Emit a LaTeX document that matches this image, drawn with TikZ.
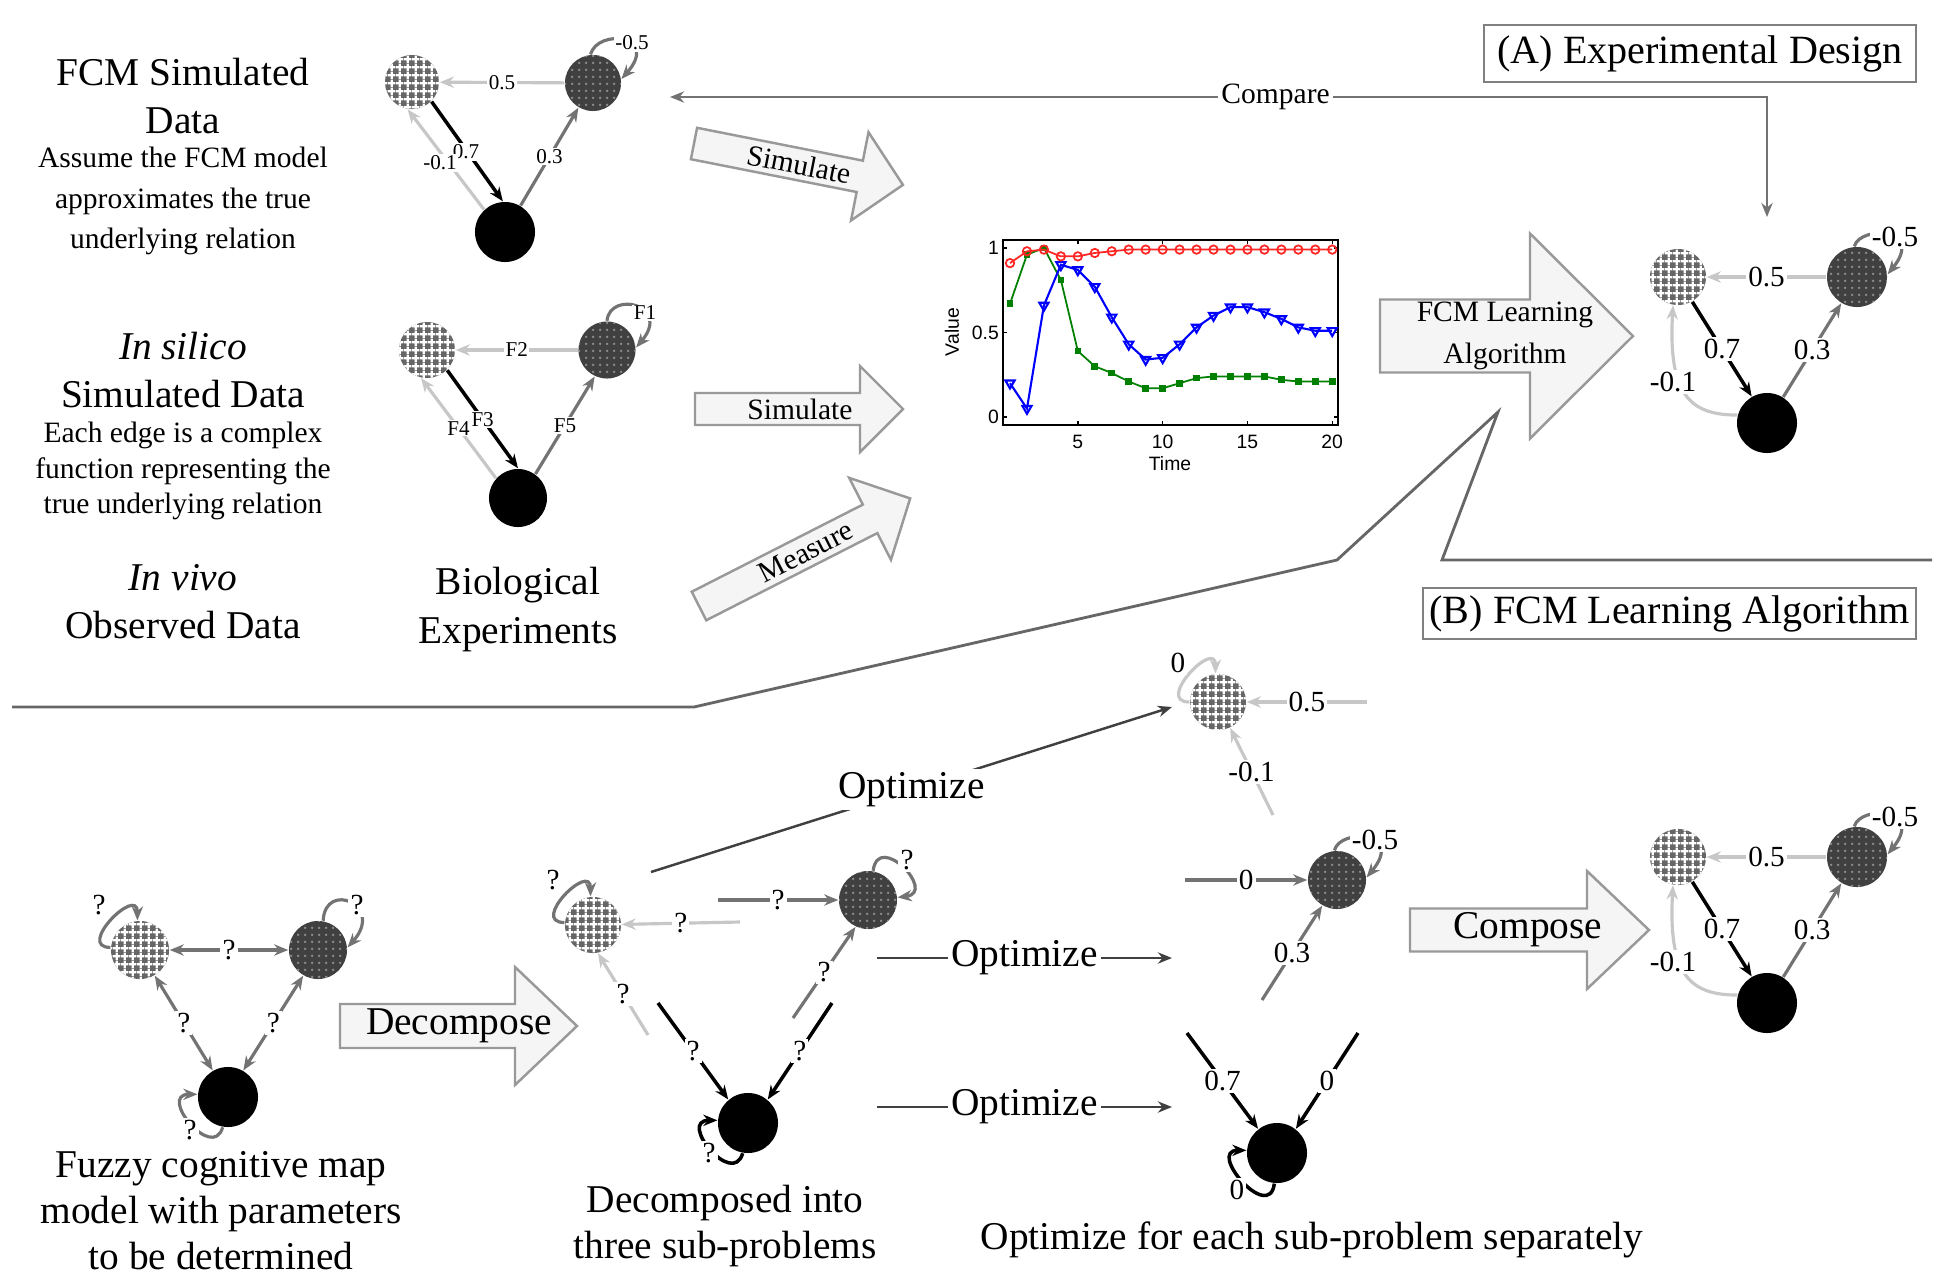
\documentclass[tikz,border=0pt]{standalone}
\usepackage{fontspec}
\setmainfont{Liberation Serif}
\newfontfamily\chartfont{Liberation Sans}
\usetikzlibrary{arrows.meta,patterns,plotmarks,calc}

\pgfdeclarepatternformonly{fcmgrid}{\pgfqpoint{0pt}{0pt}}{\pgfqpoint{2.3pt}{2.3pt}}{\pgfqpoint{2.3pt}{2.3pt}}{%
  \pgfsetlinewidth{0.7pt}%
  \pgfpathmoveto{\pgfqpoint{1.15pt}{0pt}}\pgfpathlineto{\pgfqpoint{1.15pt}{2.3pt}}%
  \pgfpathmoveto{\pgfqpoint{0pt}{1.15pt}}\pgfpathlineto{\pgfqpoint{2.3pt}{1.15pt}}%
  \pgfusepath{stroke}}
\pgfdeclarepatternformonly{fcmdots}{\pgfqpoint{0pt}{0pt}}{\pgfqpoint{2pt}{2pt}}{\pgfqpoint{2pt}{2pt}}{%
  \pgfpathcircle{\pgfqpoint{1pt}{1pt}}{0.42pt}\pgfusepath{fill}}

\newcommand{\simfont}{\fontsize{8.4}{10.3}\selectfont}
\newcommand{\bigfont}{\fontsize{11.2}{13.7}\selectfont}

\tikzset{
  chknode/.style={circle, inner sep=0pt, minimum size=0.56cm, fill=black!60, postaction={pattern=fcmgrid, pattern color=white}},
  drknode/.style={circle, inner sep=0pt, minimum size=0.58cm, fill=black!75, postaction={pattern=fcmdots, pattern color=white!55!black}},
  blknode/.style={circle, inner sep=0pt, minimum size=0.6cm, fill=black},
  elight/.style={draw=black!22, line width=0.9pt},
  emid/.style={draw=black!55, line width=0.9pt},
  edark/.style={draw=black, line width=1pt},
  arrowend/.style={-{Stealth[length=4pt,width=3.2pt]}},
  dblarrow/.style={{Stealth[length=4pt,width=3.2pt]}-{Stealth[length=4pt,width=3.2pt]}},
  elab/.style={fill=white, inner sep=0.6pt, font=\fontsize{8.3}{9}\selectfont},
  elabs/.style={fill=white, inner sep=0.4pt, font=\fontsize{6}{7}\selectfont},
  bigtxt/.style={align=center, font=\fontsize{11.2}{13.7}\selectfont, inner sep=0pt},
  smalltxt/.style={align=center, inner sep=0pt},
  fatarr/.style={draw=black!40, fill=black!4, line width=0.7pt},
  divider/.style={draw=black!60, line width=0.8pt},
  tagbox/.style={draw=black!50, line width=0.6pt, fill=white, inner sep=0pt, font=\fontsize{11.4}{13}\selectfont},
  optline/.style={draw=black!75, line width=0.7pt},
  opttxt/.style={fill=white, inner sep=1pt, font=\fontsize{11.2}{13}\selectfont},
  cmpline/.style={draw=black!55, line width=0.7pt},
  cmptxt/.style={fill=white, inner sep=1pt, font=\fontsize{8.4}{10}\selectfont},
  ticklab/.style={inner sep=1pt},
}

% #1 name, #2 start (x,y), #3 angle, #4 length, #5 shaft width, #6 head width, #7 head length, #8 text pos, #9 text
\newcommand{\fatarrow}[9]{%
  \begin{scope}[shift={#2}, rotate=#3]
    \draw[fatarr] (0,{-#5/2}) -- ({#4-#7},{-#5/2}) -- ({#4-#7},{-#6/2}) -- (#4,0) -- ({#4-#7},{#6/2}) -- ({#4-#7},{#5/2}) -- (0,{#5/2}) -- cycle;
    \node[rotate=#3, align=center, inner sep=0pt] (#1) at (#8,0) {#9};
  \end{scope}}

\newcommand{\finalfcm}[2]{%
  \begin{scope}[shift={(0,#2)}]
    \node[chknode] (#1a) at (1678,277) {};
    \node[drknode, minimum size=0.6cm] (#1b) at (1857,277) {};
    \node[blknode] (#1c) at (1767,423) {};
    \draw[elight, arrowend] (#1b) -- node[elab]{0.5} (#1a);
    \draw[edark, arrowend] (#1a.-60) -- node[elab]{0.7} (#1c.120);
    \draw[emid, arrowend] (#1c.58) -- node[elab]{0.3} (#1b.-121);
    \draw[elight, arrowend] (#1c.165) .. controls (1690,415) and (1668,395) .. (#1a.-100);
    \node[elab] (#1lm) at (1673,382) {-0.1};
    \draw[emid, arrowend] (#1b.95) .. controls (1860,225) and (1925,228) .. (#1b.5);
    \node[elab] (#1ll) at (1895,237) {-0.5};
  \end{scope}}

\begin{document}
\begin{tikzpicture}[x=0.01cm, y=-0.01cm]
\useasboundingbox (0,0) rectangle (1944,1275);
\fill[white] (0,0) rectangle (1944,1275);

% ---------- left texts ----------
\node[bigtxt] (t1) at (183,96) {FCM Simulated\\Data};
\node[smalltxt, font=\fontsize{8.4}{11.4}\selectfont] (t2) at (183,201) {Assume the FCM model\\approximates the true\\underlying relation};
\node[bigtxt, font=\fontsize{11.2}{13.4}\selectfont] (t3) at (183,370) {\textit{In silico}\\Simulated Data};
\node[smalltxt, font=\fontsize{8.4}{10}\selectfont] (t4) at (183,471) {Each edge is a complex\\function representing the\\true underlying relation};
\node[bigtxt] (t5) at (183,602) {\textit{In vivo}\\Observed Data};
\node[bigtxt, font=\fontsize{11.2}{13.9}\selectfont] (t6) at (518,609.5) {Biological\\Experiments};

% ---------- graph 1 (FCM simulated) ----------
\node[chknode, minimum size=0.54cm] (g1a) at (412,82) {};
\node[drknode, minimum size=0.56cm] (g1b) at (593,83) {};
\node[blknode] (g1c) at (505,232) {};
\draw[elight, arrowend] (g1b) -- node[elabs]{0.5} (g1a);
\draw[edark, arrowend] (g1a.-45) -- (g1c.94);
\draw[elight, arrowend] (g1c.133) -- (g1a.-99);
\node[elabs] (g1l7) at (466,152) {0.7};
\node[elabs] (g1l1) at (440,163) {-0.1};
\draw[emid, arrowend] (g1c) -- node[elabs]{0.3} (g1b);
\draw[emid, arrowend] (g1b.95) .. controls (598,28) and (660,35) .. (g1b.8);
\node[elabs] (g1l5) at (632,43) {-0.5};

% ---------- graph 2 (in silico) ----------
\node[chknode] (g2a) at (427,350) {};
\node[drknode, minimum size=0.57cm] (g2b) at (607,350) {};
\node[blknode, minimum size=0.58cm] (g2c) at (518,498) {};
\draw[elight, arrowend] (g2b) -- node[elabs]{F2} (g2a);
\draw[edark, arrowend] (g2a.-45) -- node[elabs]{F3} (g2c.90);
\draw[elight, arrowend] (g2c.138) -- node[elabs]{F4} (g2a.-102);
\draw[emid, arrowend] (g2c.54) -- node[elabs]{F5} (g2b.-115);
\draw[emid, arrowend] (g2b.90) .. controls (610,290) and (672,305) .. (g2b.5);
\node[elabs] (g2l1) at (645,313) {F1};

% ---------- fat arrows ----------
\fatarrow{arSimA}{(694,143.5)}{-11.2}{213}{32}{90}{44}{107}{\simfont Simulate}
\fatarrow{arSimB}{(695,409)}{0}{208}{32}{86}{43}{105}{\simfont Simulate}
\fatarrow{arMeas}{(699,606)}{27}{237}{32}{92}{45}{120}{\simfont Measure}
\fatarrow{arLearn}{(1380,336)}{0}{253}{73}{205}{103}{125}{\simfont FCM Learning\\\simfont Algorithm}
\fatarrow{arDec}{(340,1026)}{0}{237}{44}{118}{62}{119}{\bigfont Decompose}
\fatarrow{arComp}{(1410,930)}{0}{239}{43}{118}{62}{118}{\bigfont Compose}

% ---------- chart ----------
\node[font=\chartfont\fontsize{5.5}{6}\selectfont, rotate=90] (chy) at (952,332) {Value};
\node[font=\chartfont\fontsize{5.5}{6}\selectfont] (chx) at (1170,464) {Time};
\begin{scope}[shift={(993.05,417)}, x=0.1695cm, y=1.69cm, font=\chartfont\fontsize{5.5}{6}\selectfont]
  \draw[line width=0.5pt] (0.587,-0.047) rectangle (20.35,1.047);
  \foreach \t in {5,10,15,20} {
    \draw[line width=0.4pt] (\t,-0.047) -- ++(0,0.025);
    \draw[line width=0.4pt] (\t,1.047) -- ++(0,-0.025);
    \node[ticklab] at (\t,-0.148) {\t};
  }
  \foreach \v in {0,0.5,1} {
    \draw[line width=0.4pt] (0.587,\v) -- ++(0.25,0);
    \draw[line width=0.4pt] (20.35,\v) -- ++(-0.25,0);
    \node[ticklab, anchor=east] at (0.587,\v) {\v};
  }
  \draw[green!50!black, line width=0.5pt, mark=square*, mark size=0.7pt] plot coordinates {(1,0.67) (2,0.96) (3,1.0) (4,0.81) (5,0.39) (6,0.30) (7,0.26) (8,0.21) (9,0.17) (10,0.17) (11,0.20) (12,0.23) (13,0.24) (14,0.24) (15,0.24) (16,0.24) (17,0.22) (18,0.21) (19,0.21) (20,0.21)};
  \draw[blue, line width=0.6pt, mark=triangle, mark size=1.5pt, mark options={rotate=180}] plot coordinates {(1,0.20) (2,0.05) (3,0.66) (4,0.90) (5,0.87) (6,0.77) (7,0.59) (8,0.43) (9,0.34) (10,0.35) (11,0.43) (12,0.53) (13,0.60) (14,0.65) (15,0.65) (16,0.62) (17,0.58) (18,0.53) (19,0.51) (20,0.51)};
  \draw[red!85!white, line width=0.5pt, mark=o, mark size=1.2pt] plot coordinates {(1,0.91) (2,0.98) (3,0.99) (4,0.95) (5,0.95) (6,0.97) (7,0.98) (8,0.99) (9,0.99) (10,0.99) (11,0.99) (12,0.99) (13,0.99) (14,0.99) (15,0.99) (16,0.99) (17,0.99) (18,0.99) (19,0.99) (20,0.99)};
\end{scope}

% ---------- right graphs ----------
\finalfcm{rt}{0}
\finalfcm{rb}{580}

% ---------- compare ----------
\coordinate (cmpL) at (670,97);
\coordinate (cmpK) at (1767,97);
\coordinate (cmpR) at (1767,217);
\draw[cmpline, dblarrow] (cmpL) -- node[cmptxt, pos=0.552]{Compare} (cmpK) -- (cmpR);

% ---------- boxes ----------
\node[tagbox, minimum width=4.32cm, minimum height=0.57cm] (boxA) at (1700,53.5) {(A) Experimental Design};
\node[tagbox, minimum width=4.93cm, minimum height=0.51cm] (boxB) at (1669.5,613.5) {(B) FCM Learning Algorithm};

% ---------- divider ----------
\draw[divider] (12,707) -- (694,707) -- (1337,560) -- (1498,412) -- (1442,560) -- (1932,560);

% ---------- bottom-left graph ----------
\node[chknode, minimum size=0.58cm] (bla) at (140,950) {};
\node[drknode] (blb) at (318,950) {};
\node[blknode] (blc) at (228,1097) {};
\draw[emid, dblarrow] (bla) -- node[elab]{?} (blb);
\draw[emid, dblarrow] (bla.-60) -- node[elab]{?} (blc.120);
\draw[emid, dblarrow] (blb.-120) -- node[elab]{?} (blc.60);
\draw[emid, arrowend] (bla.175) .. controls +(-35,0) and +(0,-35) .. (bla.95);
\node[elab, fill=none] (blq1) at (99,905) {?};
\draw[emid, arrowend] (blb.80) .. controls (325,880) and (385,905) .. (blb.5);
\node[elab] (blq2) at (357,905) {?};
\draw[emid, arrowend] (blc.-100) .. controls +(-10,35) and +(-40,0) .. (blc.175);
\node[elab] (blq3) at (190,1130) {?};
\node[bigtxt, font=\fontsize{11.2}{13.1}\selectfont] (t7) at (221,1211) {Fuzzy cognitive map\\model with parameters\\to be determined};

% ---------- decomposed graph ----------
\node[chknode] (dma) at (593,925) {};
\node[drknode] (dmb) at (868,900) {};
\node[blknode] (dmc) at (748,1123) {};
\coordinate (dmp1) at (740,922);
\coordinate (dmp2) at (718,900);
\coordinate (dmp3) at (648,1035);
\coordinate (dmp4) at (793,1018);
\coordinate (dmp5) at (658,1003);
\coordinate (dmp6) at (832,1003);
\draw[elight, arrowend] (dmp1) -- node[elab]{?} (dma);
\draw[emid, arrowend] (dmp2) -- node[elab]{?} (dmb);
\draw[elight, arrowend] (dmp3) -- node[elab]{?} (dma.-80);
\draw[emid, arrowend] (dmp4) -- node[elab]{?} (dmb.-115);
\draw[edark, arrowend] (dmp5) -- node[elab]{?} (dmc.130);
\draw[edark, arrowend] (dmp6) -- node[elab]{?} (dmc.50);
\draw[emid, arrowend] (dma.175) .. controls +(-35,0) and +(0,-35) .. (dma.95);
\node[elab, fill=none] (dmq1) at (553,880) {?};
\draw[emid, arrowend] (dmb.80) .. controls +(5,-40) and +(40,-5) .. (dmb.5);
\node[elab] (dmq2) at (907,860) {?};
\draw[edark, arrowend] (dmc.-100) .. controls +(-10,35) and +(-40,0) .. (dmc.175);
\node[elab] (dmq3) at (709,1153) {?};
\node[bigtxt, font=\fontsize{11.2}{13.1}\selectfont] (t8) at (725,1226) {Decomposed into\\three sub-problems};

% ---------- optimize arrows ----------
\coordinate (op1s) at (651,872);
\coordinate (op1e) at (1172,707);
\coordinate (op2s) at (877,958);
\coordinate (op2e) at (1172,958);
\coordinate (op3s) at (877,1107);
\coordinate (op3e) at (1172,1107);
\draw[optline, arrowend] (op1s) -- node[opttxt]{Optimize} (op1e);
\draw[optline, arrowend] (op2s) -- node[opttxt]{Optimize} (op2e);
\draw[optline, arrowend] (op3s) -- node[opttxt]{Optimize} (op3e);

% ---------- sub-problem 1 ----------
\node[chknode] (s1a) at (1218,702) {};
\coordinate (s1p1) at (1367,702);
\coordinate (s1p2) at (1273,815);
\draw[elight, arrowend] (s1p1) -- node[elab]{0.5} (s1a);
\draw[elight, arrowend] (s1p2) -- node[elab]{-0.1} (s1a.-65);
\draw[elight, arrowend] (s1a.180) .. controls +(-35,0) and +(0,-35) .. (s1a.95);
\node[elab] (s1q) at (1178,663) {0};

% ---------- sub-problem 2 ----------
\node[drknode] (s2b) at (1337,880) {};
\coordinate (s2p1) at (1185,880);
\coordinate (s2p2) at (1262,1000);
\draw[emid, arrowend] (s2p1) -- node[elab]{0} (s2b);
\draw[emid, arrowend] (s2p2) -- node[elab]{0.3} (s2b.-120);
\draw[emid, arrowend] (s2b.95) .. controls (1340,828) and (1405,831) .. (s2b.5);
\node[elab] (s2q) at (1375,840) {-0.5};

% ---------- sub-problem 3 ----------
\node[blknode] (s3c) at (1277,1153) {};
\coordinate (s3p1) at (1187,1033);
\coordinate (s3p2) at (1358,1033);
\draw[edark, arrowend] (s3p1) -- node[elab]{0.7} (s3c.128);
\draw[edark, arrowend] (s3p2) -- node[elab]{0} (s3c.52);
\draw[edark, arrowend] (s3c.-95) .. controls +(-5,40) and +(-40,0) .. (s3c.175);
\node[elab] (s3q) at (1237,1190) {0};

\node[bigtxt] (t9) at (1312,1240) {Optimize for each sub-problem separately};
\end{tikzpicture}
\end{document}
